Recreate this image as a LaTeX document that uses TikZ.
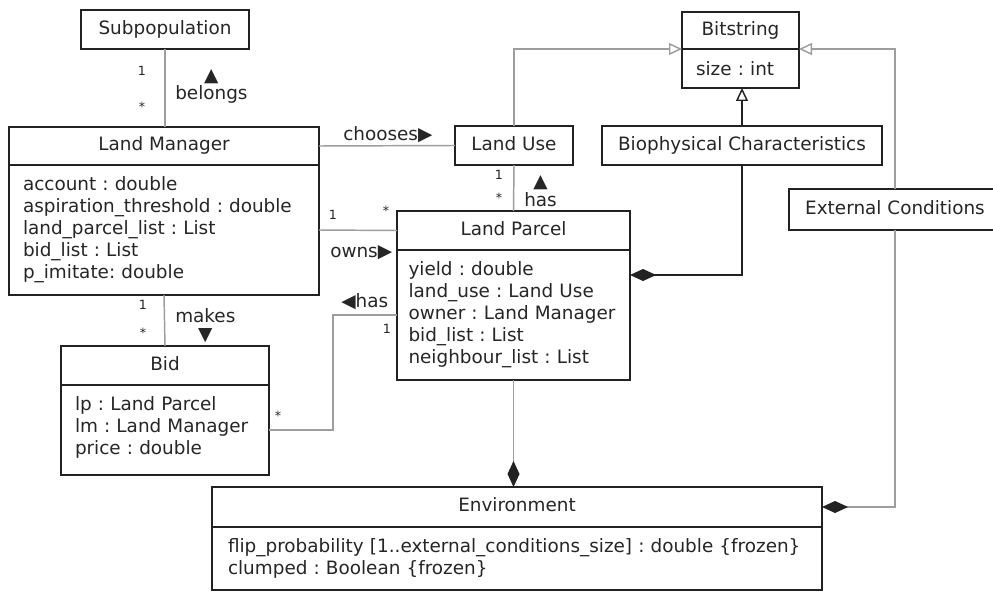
\documentclass[tikz,border=0pt]{standalone}
\usepackage{fontspec}
\setmainfont{DejaVu Sans}
\usetikzlibrary{arrows.meta,positioning}

\definecolor{boxline}{RGB}{34,34,34}
\definecolor{linkgray}{RGB}{158,158,158}
\newcommand{\px}{0.75pt}
\newcommand{\umlfont}{\fontsize{13.8pt}{16.5pt}\selectfont\frenchspacing}
\newcommand{\rtri}{{\fontsize{14pt}{14pt}\selectfont ▶}}
\newcommand{\ltri}{{\fontsize{14pt}{14pt}\selectfont ◀}}
\newcommand{\utri}{{\fontsize{14pt}{14pt}\selectfont ▲}}
\newcommand{\dtri}{{\fontsize{14pt}{14pt}\selectfont ▼}}

\tikzset{
  classbox/.style={draw=boxline, line width=1.1pt, anchor=north west,
    inner sep=0pt, outer sep=0pt, font=\umlfont, text=black!85},
  classhead/.style={classbox, text height=0.8em, text depth=0.07em},
  classbody/.style={classbox, align=left},
  link/.style={draw=linkgray, line width=1.1pt},
  isa/.style={link, -{Triangle[length=9.75pt, width=9pt, fill=white]}},
  partof/.style={link, -{Diamond[length=19.5pt, width=9pt, color=boxline]}},
  role/.style={font=\umlfont, text=black!85, inner sep=0pt, anchor=base west},
  mult/.style={font=\fontsize{9.5pt}{11pt}\selectfont, text=black!85, inner sep=0pt}
}

\begin{document}
\begin{tikzpicture}[x=\px, y=-\px]

% Page
\useasboundingbox (0,0) rectangle (993,592);
\fill[white] (0,0) rectangle (993,592);
\clip (0,0) rectangle (993,592);

% Classes
\node[classhead, minimum width=168*\px, minimum height=39*\px] (sub) at (81,10) {Subpopulation};

\node[classhead, minimum width=310*\px, minimum height=38*\px] (lmh) at (9,127) {Land Manager};
\node[classbody, minimum width=310*\px, minimum height=130*\px, text width=211.5pt] (lmb) at (lmh.south west)
{account : double\\
aspiration\_threshold : double\\
land\_parcel\_list : List\\
bid\_list : List\\
p\_imitate: double};

\node[classhead, minimum width=118*\px, minimum height=39*\px] (lu) at (455,126) {Land Use};
\node[classhead, minimum width=280*\px, minimum height=39*\px] (bio) at (602,126) {Biophysical Characteristics};

\node[classhead, minimum width=117*\px, minimum height=37*\px] (bitsh) at (682,12) {Bitstring};
\node[classbody, minimum width=117*\px, minimum height=39*\px, text width=66.75pt] (bitsb) at (bitsh.south west) {size : int};

\node[classhead, minimum width=212*\px, minimum height=41*\px] (ext) at (789,189) {External Conditions};

\node[classhead, minimum width=233*\px, minimum height=39*\px] (lph) at (397,211) {Land Parcel};
\node[classbody, minimum width=233*\px, minimum height=130*\px, text width=157.5pt] (lpb) at (lph.south west)
{yield : double\\
land\_use : Land Use\\
owner : Land Manager\\
bid\_list : List\\
neighbour\_list : List};

\node[classhead, minimum width=208*\px, minimum height=39*\px] (bidh) at (61,346) {Bid};
\node[classbody, minimum width=208*\px, minimum height=90*\px, text width=135pt] (bidb) at (bidh.south west)
{\mbox{}\\[-10pt]
lp : Land Parcel\\
lm : Land Manager\\
price : double};

\node[classhead, minimum width=610*\px, minimum height=40*\px] (envh) at (212,487) {Environment};
\node[classbody, minimum width=610*\px, minimum height=63*\px, text width=433.5pt] (envb) at (envh.south west)
{flip\_probability [1..external\_conditions\_size] : double \{frozen\}\\
clumped : Boolean \{frozen\}};

% Associations
\draw[link] (sub.south) -- (sub.south |- lmh.north);
\draw[link] (lmh.east) -- (lu.west);
\draw[link] (lmb.east) -- (lph.west);
\draw[link] (lmb.south) -- (bidh.north);
\draw[link] (lu.south) -- (lph.north);
\draw[link] (bidb.east) -- ++(64,0) |- (lpb.west);

% Generalisations
\draw[isa] (lu.north) |- (bitsh.south west);
\draw[isa] (ext.north) |- (bitsh.south east);
\draw[isa, draw=boxline] (bio.north) -- (bio.north |- bitsb.south);

% Compositions
\draw[partof, draw=boxline] (bio.south) |- ([yshift=-25*\px]lpb.north east);
\draw[partof] (lpb.south) -- (lpb.south |- envh.north);
\draw[partof] (ext.south) |- (envh.east);

% Association names
\node[role] (belongs) at (175,100) {belongs};
\node[role, above=1pt of belongs] (belongsdir) {\utri};
\node[role] (chooses) at (343,141) {chooses\rtri};
\node[role] (owns) at (330,257) {owns\rtri};
\node[role] (makes) at (175,322) {makes};
\node[role, below=4pt of makes] (makesdir) {\dtri};
\node[role] (hasuse) at (524,206) {has};
\node[role, above=1pt of hasuse] (hasusedir) {\utri};
\node[role] (hasbid) at (341,307) {\ltri has};

% Multiplicities
\node[mult] (subone) at (142,71) {1};
\node[mult] (lmmany) at (142,107) {*};
\node[mult] (lmone) at (143,305) {1};
\node[mult] (bidmany) at (143,333) {*};
\node[mult] (ownone) at (333,215) {1};
\node[mult] (ownmany) at (386,211) {*};
\node[mult] (luone) at (499,175) {1};
\node[mult] (lumany) at (499,198) {*};
\node[mult] (hasone) at (387,329) {1};
\node[mult] (hasmany) at (278,416) {*};

\end{tikzpicture}
\end{document}
